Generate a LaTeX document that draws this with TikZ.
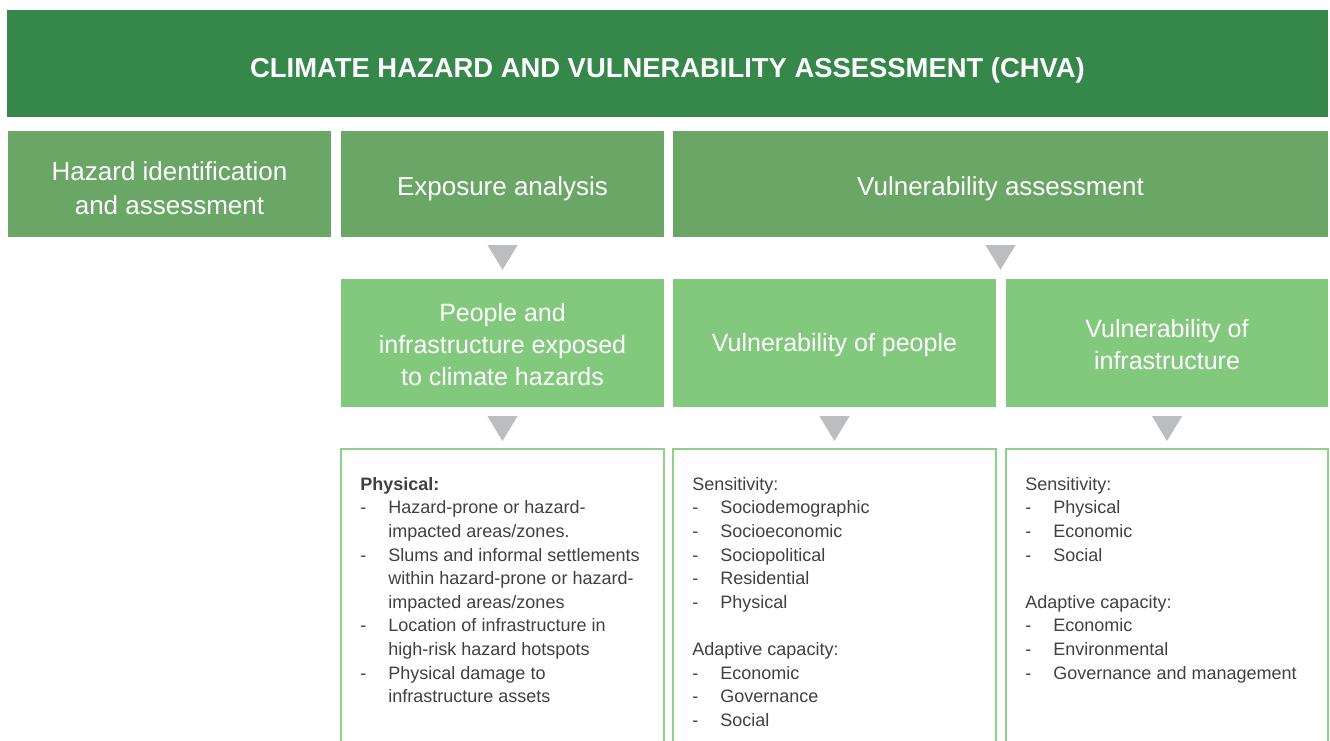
\documentclass[tikz,border=0pt]{standalone}
\usepackage{fontspec}
\setmainfont{Liberation Sans}
\usetikzlibrary{positioning,calc}

\definecolor{titlegreen}{HTML}{35874A}
\definecolor{stagegreen}{HTML}{6AA666}
\definecolor{subgreen}{HTML}{82C87D}
\definecolor{linegreen}{HTML}{8FD08A}
\definecolor{arrowgray}{HTML}{BCBDC0}
\definecolor{bodytext}{HTML}{404040}

\tikzset{
	titlebox/.style={fill=titlegreen,inner sep=0pt,
		minimum width=1321pt,minimum height=107pt},
	titletext/.style={text=white,inner sep=0pt,yshift=-6.5pt,
		font=\bfseries\fontsize{27.4}{32}\selectfont},
	stagebox/.style={fill=stagegreen,inner sep=0pt,minimum height=106pt},
	stagetext/.style={text=white,inner sep=0pt,align=center,yshift=-4.5pt,
		font=\fontsize{26}{34}\selectfont},
	subbox/.style={fill=subgreen,inner sep=0pt,minimum height=128pt,minimum width=323pt},
	subtext/.style={text=white,inner sep=0pt,align=center,yshift=-2pt,
		font=\fontsize{25}{32}\selectfont},
	listbox/.style={draw=linegreen,line width=1.5pt,inner sep=0pt,
		minimum width=323pt,minimum height=320pt,anchor=north},
	listtext/.style={anchor=north west,text=bodytext,inner sep=0pt,align=left,
		font=\fontsize{18}{23.6}\selectfont},
	downtri/.style={fill=arrowgray}
}
\newcommand{\dashline}[1]{\makebox[28pt][l]{-}#1}
\newcommand{\contline}[1]{\hspace*{28pt}#1}

\begin{document}
\begin{tikzpicture}[x=1pt,y=-1pt]

	\useasboundingbox (0,0) rectangle (1330,740);
	\clip (0,0) rectangle (1330,740);

	% banner and stages
	\node[titlebox,label={[titletext]center:CLIMATE HAZARD AND VULNERABILITY ASSESSMENT (CHVA)}] (chva) at (667.5,63.5) {};
	\node[stagebox,minimum width=323pt,label={[stagetext]center:Hazard identification\\and assessment}] (hazard) at (169.5,184) {};
	\node[stagebox,minimum width=323pt,label={[stagetext]center:Exposure analysis}] (exposure) at (502.5,184) {};
	\node[stagebox,minimum width=655pt,label={[stagetext]center:Vulnerability assessment}] (vulnass) at (1000.5,184) {};

	% second row
	\node[subbox,label={[subtext]center:People and\\infrastructure exposed\\to climate hazards}] (peopleexp) at (502.5,343) {};
	\node[subbox,label={[subtext]center:Vulnerability of people}] (vulpeople) at (834.5,343) {};
	\node[subbox,minimum width=322pt,label={[subtext]center:Vulnerability of\\infrastructure}] (vulinfra) at (1167,343) {};

	% lists
	\node[listbox] (physlist) at (502.5,448) {};
	\node[listbox] (peoplelist) at (834.5,448) {};
	\node[listbox,minimum width=322pt] (infralist) at (1167,448) {};

	\node[listtext] (physitems) at ($(physlist.north west)+(20,29)$) {%
		\textbf{Physical:}\\
		\dashline{Hazard-prone or hazard-}\\
		\contline{impacted areas/zones.}\\
		\dashline{Slums and informal settlements}\\
		\contline{within hazard-prone or hazard-}\\
		\contline{impacted areas/zones}\\
		\dashline{Location of infrastructure in}\\
		\contline{high-risk hazard hotspots}\\
		\dashline{Physical damage to}\\
		\contline{infrastructure assets}};
	\node[listtext] (peopleitems) at ($(peoplelist.north west)+(20,29)$) {%
		Sensitivity:\\
		\dashline{Sociodemographic}\\
		\dashline{Socioeconomic}\\
		\dashline{Sociopolitical}\\
		\dashline{Residential}\\
		\dashline{Physical}\\[23.6pt]
		Adaptive capacity:\\
		\dashline{Economic}\\
		\dashline{Governance}\\
		\dashline{Social}};
	\node[listtext] (infraitems) at ($(infralist.north west)+(20,29)$) {%
		Sensitivity:\\
		\dashline{Physical}\\
		\dashline{Economic}\\
		\dashline{Social}\\[23.6pt]
		Adaptive capacity:\\
		\dashline{Economic}\\
		\dashline{Environmental}\\
		\dashline{Governance and management}};

	% arrows
	\coordinate (split) at (vulnass.south |- vulpeople.north);
	\fill[downtri] ($(exposure.south)+(-15,8)$) -- ($(exposure.south)+(15,8)$) -- ($(peopleexp.north)+(0,-9)$) -- cycle;
	\fill[downtri] ($(vulnass.south)+(-15,8)$) -- ($(vulnass.south)+(15,8)$) -- ($(split)+(0,-9)$) -- cycle;
	\fill[downtri] ($(peopleexp.south)+(-15,9)$) -- ($(peopleexp.south)+(15,9)$) -- ($(physlist.north)+(0,-7)$) -- cycle;
	\fill[downtri] ($(vulpeople.south)+(-15,9)$) -- ($(vulpeople.south)+(15,9)$) -- ($(peoplelist.north)+(0,-7)$) -- cycle;
	\fill[downtri] ($(vulinfra.south)+(-15,9)$) -- ($(vulinfra.south)+(15,9)$) -- ($(infralist.north)+(0,-7)$) -- cycle;

\end{tikzpicture}
\end{document}
